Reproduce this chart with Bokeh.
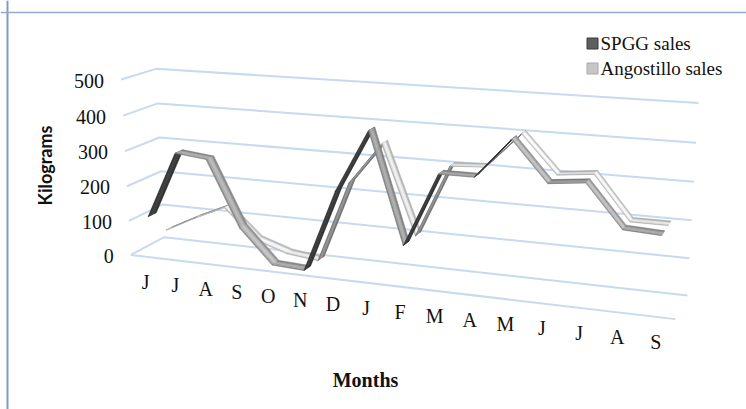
import numpy as np
from bokeh.plotting import figure
from bokeh.models import Range1d, Span
from bokeh.core.properties import value
from bokeh.embed import file_html
from bokeh.resources import INLINE

# ---- data -------------------------------------------------------------
months = ["J", "J", "A", "S", "O", "N", "D", "J", "F", "M", "A", "M", "J", "J", "A", "S"]
spgg_sales = [110, 300, 290, 105, 10, 5, 235, 405, 105, 305, 305, 410, 305, 315, 205, 200]
angostillo_sales = [45, 90, 130, 45, 15, 5, 235, 350, 105, 305, 310, 405, 305, 315, 200, 200]
y_ticks = [0, 100, 200, 300, 400, 500]
series_names = ["SPGG sales", "Angostillo sales"]

# ---- 3-D camera ----------------------------------------------------------
# world: (month axis position, kilograms, depth 0=front .. 1=back wall)
# page : pixel position of the plot box corners in the 746x409 page
W, H = 746, 409
N_CAT = len(months)
BOX_WORLD = [(0, 0, 0), (0, 500, 0), (16, 0, 0), (0, 0, 1), (0, 500, 1), (16, 0, 1), (16, 500, 1),
             (0, 100, 0), (0, 200, 0), (0, 300, 0), (0, 400, 0),
             (0, 100, 1), (0, 200, 1), (0, 300, 1), (0, 400, 1),
             (16, 100, 1), (16, 200, 1), (16, 300, 1), (16, 400, 1)]
BOX_PAGE = [(131, 254), (120, 79), (675, 319), (165, 237), (157, 68), (687, 295), (698, 103),
            (128, 220), (127, 186), (125, 151), (122, 115),
            (161, 204), (159, 171), (158, 137), (158, 103),
            (689, 258), (691, 219), (693, 181), (696, 142)]


def fit_camera(world, page):
    rows = []
    for (X, Y, Z), (u, v) in zip(world, page):
        w = [X, Y / 100.0, Z, 1.0]
        un, vn = (u - W / 2) / (W / 2), (v - H / 2) / (H / 2)
        rows.append(w + [0.0] * 4 + [-un * c for c in w])
        rows.append([0.0] * 4 + w + [-vn * c for c in w])
    _, _, vt = np.linalg.svd(np.array(rows))
    return vt[-1].reshape(3, 4)


CAM = fit_camera(BOX_WORLD, BOX_PAGE)


def project(X, Y, Z):
    X, Y, Z = np.broadcast_arrays(np.asarray(X, float), np.asarray(Y, float), np.asarray(Z, float))
    h = CAM @ np.vstack([X.ravel(), Y.ravel() / 100.0, Z.ravel(), np.ones(X.size)])
    u = h[0] / h[2] * (W / 2) + W / 2
    v = h[1] / h[2] * (H / 2) + H / 2
    return u.reshape(X.shape), v.reshape(X.shape)


def serif():
    return value("Liberation Serif")


# ---- figure ----------------------------------------------------------------
p = figure(width=W, height=H, x_range=Range1d(0, W), y_range=Range1d(H, 0),
           x_axis_type=None, y_axis_type=None, output_backend="svg",
           toolbar_location=None, min_border=0)
p.grid.visible = False
p.outline_line_color = None
p.background_fill_color = "white"

# chart-area border
p.add_layout(Span(location=7, dimension="height", line_color="#7F9BC1", line_width=2))
p.add_layout(Span(location=12, dimension="width", line_color="#93ACCB", line_width=1.5))

# ---- walls and floor grid --------------------------------------------------
GRID = "#C9D9EF"
gx, gy = [], []
for t in y_ticks:
    u, v = project([0, 0, N_CAT], [t, t, t], [0, 1, 1])
    gx.append(list(u)); gy.append(list(v))
u, v = project([0, N_CAT], [0, 0], [0, 0])
gx.append(list(u)); gy.append(list(v))
p.multi_line(gx, gy, line_color=GRID, line_width=2)

# ---- ribbons ---------------------------------------------------------------
LIGHT = np.array([0.6, 0.75])
LIGHT = LIGHT / np.linalg.norm(LIGHT)
NB = 5
HALF = 0.12


def ribbon(vals, zc, base, span):
    xs, ys, cols = [], [], []
    for i in range(len(vals) - 1):
        X0, X1 = i + 0.5, i + 1.5
        Y0, Y1 = vals[i], vals[i + 1]
        dy = (Y1 - Y0) / 100.0 * 1.05
        n = np.array([-dy, 1.0]) / np.hypot(dy, 1.0)
        lam = max(0.0, float(n @ LIGHT))
        for j in range(NB):
            za = zc - HALF + 2 * HALF * j / NB
            zb = za + 2 * HALF / NB
            u, v = project([X0, X1, X1, X0], [Y0, Y1, Y1, Y0], [za, za, zb, zb])
            prof = 0.62 + 0.38 * np.sin(np.pi * (j + 0.5) / NB)
            g = int(np.clip((base + span * lam) * prof, 0, 255))
            xs.append(list(u)); ys.append(list(v))
            cols.append("#%02x%02x%02x" % (g, g, g))
    p.patches(xs, ys, fill_color=cols, line_color=cols, line_width=0.6)


ribbon(angostillo_sales, 0.75, 150, 110)
ribbon(spgg_sales, 0.25, 60, 140)

# ---- tick labels -----------------------------------------------------------
u, v = project([0] * len(y_ticks), y_ticks, [0] * len(y_ticks))
p.text(x=list(u - 17), y=list(v + 1), text=[str(t) for t in y_ticks], text_font=serif(),
       text_font_size="20px", text_align="right", text_baseline="middle", text_color="#111111")

mx = np.arange(N_CAT) + 0.5
u, v = project(mx, np.zeros(N_CAT), np.zeros(N_CAT))
p.text(x=list(u), y=list(v + 25), text=months, text_font=serif(), text_font_size="20px",
       text_align="center", text_baseline="middle", text_color="#111111")

# ---- axis titles -----------------------------------------------------------
p.text(x=[365], y=[379], text=["Months"], text_font=serif(), text_font_size="20px",
       text_font_style="bold", text_align="center", text_baseline="middle", text_color="#111111")
p.text(x=[44], y=[165], text=["Kilograms"], text_font=value("Lato"), text_font_size="18px",
       text_font_style="bold", text_align="center", text_baseline="middle", angle=np.pi / 2,
       text_color="#111111")

# ---- legend ----------------------------------------------------------------
p.scatter(x=[592, 592], y=[43, 68], marker="square", size=11,
          fill_color=["#5e5e5e", "#c6c6c6"], line_color=["#3a3a3a", "#a8a8a8"])
p.text(x=[600, 600], y=[43, 68], text=series_names, text_font=serif(), text_font_size="19px",
       text_align="left", text_baseline="middle", text_color="#111111")

open("out.html", "w").write(file_html(p, INLINE))
